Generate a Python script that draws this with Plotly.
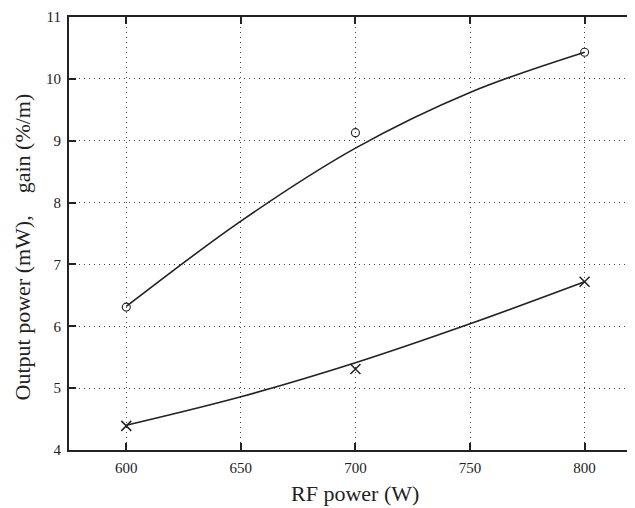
import plotly.graph_objects as go

# measured points
rf_points = [600, 700, 800]
gain_points = [6.31, 9.13, 10.43]
power_points = [4.39, 5.31, 6.72]

# fitted curves
rf_curve = [600, 650, 700, 750, 800]
gain_curve = [6.32, 7.70, 8.88, 9.78, 10.43]
power_curve = [4.40, 4.86, 5.41, 6.04, 6.72]

x_ticks = [600, 650, 700, 750, 800]
y_ticks = [4, 5, 6, 7, 8, 9, 10, 11]

x_title = "RF power (W)"
y_title = "Output power (mW),\u00a0\u00a0\u00a0 gain (%/m)"

fig = go.Figure()
fig.add_trace(go.Scatter(x=rf_curve, y=gain_curve, mode="lines",
                         line=dict(color="#222", width=1.6, shape="spline", smoothing=1.0),
                         showlegend=False, hoverinfo="skip"))
fig.add_trace(go.Scatter(x=rf_curve, y=power_curve, mode="lines",
                         line=dict(color="#222", width=1.6, shape="spline", smoothing=1.0),
                         showlegend=False, hoverinfo="skip"))
fig.add_trace(go.Scatter(x=rf_points, y=gain_points, mode="markers",
                         marker=dict(symbol="circle-open", size=8, color="#222",
                                     line=dict(width=1.1, color="#222")),
                         showlegend=False))
fig.add_trace(go.Scatter(x=rf_points, y=power_points, mode="markers",
                         marker=dict(symbol="x-thin-open", size=10, color="#222",
                                     line=dict(width=1.5, color="#222")),
                         showlegend=False))

font_family = "Liberation Serif, Times New Roman, serif"
# the page body adds an 8px offset; margins compensate for it
fig.update_layout(
    width=627, height=500,
    margin=dict(l=61, r=0, t=9, b=58, autoexpand=False),
    paper_bgcolor="white", plot_bgcolor="white",
    font=dict(family=font_family, color="#222"),
)
fig.update_xaxes(
    range=[575, 822], tickvals=x_ticks, ticktext=[str(v) for v in x_ticks],
    showline=True, linecolor="#222", linewidth=2, mirror="ticks",
    ticks="inside", ticklen=7, tickwidth=1.5, tickcolor="#222",
    showgrid=True, gridcolor="#444", griddash="1px,4px", gridwidth=1,
    zeroline=False, tickfont=dict(size=15, family=font_family), automargin=False,
    ticklabelstandoff=3,
)
fig.update_yaxes(
    range=[4, 11], tickvals=y_ticks, ticktext=[str(v) for v in y_ticks],
    showline=True, linecolor="#222", linewidth=2, mirror="ticks",
    ticks="inside", ticklen=7, tickwidth=1.5, tickcolor="#222",
    showgrid=True, gridcolor="#444", griddash="1px,4px", gridwidth=1,
    zeroline=False, tickfont=dict(size=15, family=font_family), automargin=False,
    ticklabelstandoff=3,
)
fig.add_annotation(text=x_title, xref="paper", yref="paper", x=0.505, y=0,
                   xanchor="center", yanchor="middle", yshift=-43, showarrow=False,
                   font=dict(size=22, family=font_family, color="#222"))
fig.add_annotation(text=y_title, xref="paper", yref="paper", x=0, y=0.469,
                   xanchor="right", yanchor="middle", xshift=-32, textangle=-90,
                   showarrow=False, font=dict(size=22, family=font_family, color="#222"))
fig.write_html("out.html")
